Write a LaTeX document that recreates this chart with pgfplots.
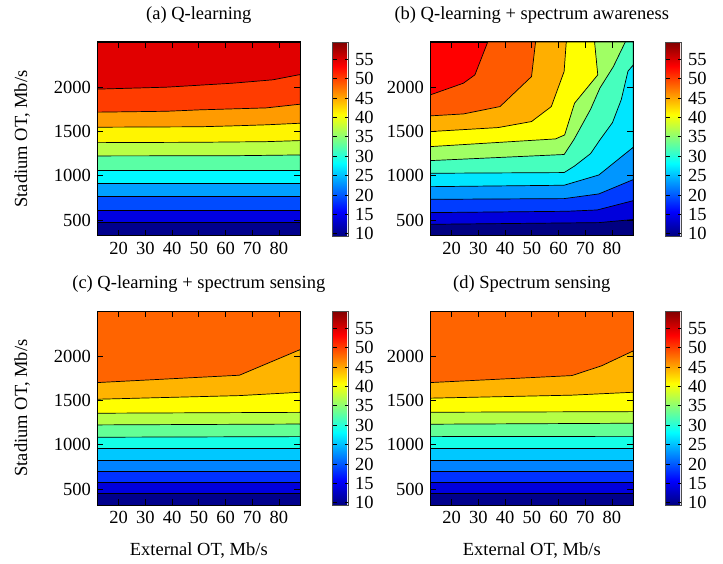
\documentclass[border=0pt]{standalone}
\usepackage{fontspec}
\setmainfont{Liberation Serif}
\usepackage{pgfplots}
\pgfplotsset{compat=1.18}

% band colours, bottom (lowest value) to top
\definecolor{a0}{RGB}{0,0,140}
\definecolor{a1}{RGB}{0,0,225}
\definecolor{a2}{RGB}{0,75,255}
\definecolor{a3}{RGB}{0,160,255}
\definecolor{a4}{RGB}{0,250,255}
\definecolor{a5}{RGB}{90,255,165}
\definecolor{a6}{RGB}{185,255,70}
\definecolor{a7}{RGB}{255,245,0}
\definecolor{a8}{RGB}{255,155,0}
\definecolor{a9}{RGB}{255,60,0}
\definecolor{a10}{RGB}{225,0,0}

\definecolor{b0}{RGB}{0,0,130}
\definecolor{b1}{RGB}{0,0,220}
\definecolor{b2}{RGB}{0,60,255}
\definecolor{b3}{RGB}{0,150,255}
\definecolor{b4}{RGB}{0,230,255}
\definecolor{b5}{RGB}{70,255,190}
\definecolor{b6}{RGB}{160,255,100}
\definecolor{b7}{RGB}{255,255,0}
\definecolor{b8}{RGB}{255,175,0}
\definecolor{b9}{RGB}{255,90,0}
\definecolor{b10}{RGB}{255,0,0}

\definecolor{c0}{RGB}{0,0,140}
\definecolor{c1}{RGB}{0,0,220}
\definecolor{c2}{RGB}{0,50,255}
\definecolor{c3}{RGB}{0,130,255}
\definecolor{c4}{RGB}{0,200,255}
\definecolor{c5}{RGB}{20,255,230}
\definecolor{c6}{RGB}{100,255,150}
\definecolor{c7}{RGB}{180,255,70}
\definecolor{c8}{RGB}{255,255,0}
\definecolor{c9}{RGB}{255,180,0}
\definecolor{c10}{RGB}{255,100,0}

\pgfplotsset{
  panel/.style={
    scale only axis, width=203pt, height=194pt,
    xmin=12, xmax=88, ymin=320, ymax=2510,
    xtick={20,30,...,80}, ytick={500,1000,1500,2000},
    tick align=inside,
    major tick length=6pt,
    tick style={black, line width=0.8pt},
    axis line style={black, line width=1pt},
    /pgf/number format/assume math mode=true,
    /pgf/number format/1000 sep={},
    axis on top,
    % the default title style already shifts up by 6pt
    title style={at={(axis description cs:0.5,1.108)}, anchor=center},
    xlabel style={at={(axis description cs:0.5,-0.237)}, anchor=center},
    ylabel style={at={(axis description cs:-0.37,0.5)}, anchor=center},
    colorbar, colormap/jet,
    point meta min=9.4, point meta max=59.5,
    colorbar style={
      at={(parent axis.north east)}, anchor=north west, xshift=24pt,
      scale only axis, width=16pt, height=194pt,
      ytick={10,15,...,55},
      ytick pos=both, yticklabel pos=right,
      tick align=inside,
      major tick length=4pt,
      tick style={black, line width=0.8pt},
      axis line style={black!70, line width=0.8pt},
      /pgf/number format/assume math mode=true,
    },
  },
  band/.style={draw=black, line width=0.7pt, fill=#1},
}

\begin{document}
\fontsize{18.5}{22}\selectfont
\begin{tikzpicture}
\useasboundingbox (0,0) rectangle (723pt,563pt);

% (a)
\begin{axis}[panel, at={(97.3pt,327pt)}, anchor=south west,
  title={(a) Q-learning}, ylabel={Stadium OT, Mb/s}]
\addplot[band=a10] coordinates {(12,320) (12,2510) (88,2510) (88,320)} -- cycle;
\addplot[band=a9] coordinates {(12,1978) (37.9,2000) (62.7,2045) (77.7,2083) (88,2143) (88,320) (12,320)} -- cycle;
\addplot[band=a8] coordinates {(12,1718) (37.9,1728) (50.3,1744) (75.2,1766) (88,1808) (88,320) (12,320)} -- cycle;
\addplot[band=a7] coordinates {(12,1548) (50.3,1553) (62.7,1563) (75.2,1575) (88,1593) (88,320) (12,320)} -- cycle;
\addplot[band=a6] coordinates {(12,1374) (50.3,1378) (75.2,1385) (88,1397) (88,320) (12,320)} -- cycle;
\addplot[band=a5] coordinates {(12,1224) (62.7,1226) (88,1235) (88,320) (12,320)} -- cycle;
\addplot[band=a4] coordinates {(12,1058) (88,1058) (88,320) (12,320)} -- cycle;
\addplot[band=a3] coordinates {(12,915) (88,915) (88,320) (12,320)} -- cycle;
\addplot[band=a2] coordinates {(12,764) (88,764) (88,320) (12,320)} -- cycle;
\addplot[band=a1] coordinates {(12,614) (88,614) (88,320) (12,320)} -- cycle;
\addplot[band=a0] coordinates {(12,475) (88,475) (88,320) (12,320)} -- cycle;
\end{axis}

% (b)
\begin{axis}[panel, at={(430.3pt,327pt)}, anchor=south west,
  title={(b) Q-learning + spectrum awareness}]
\addplot[band=b10] coordinates {(12,320) (12,2510) (88,2510) (88,320)} -- cycle;
\addplot[band=b9] coordinates {(12,1913) (24.4,2045) (28.7,2139) (33.5,2510) (88,2510) (88,320) (12,320)} -- cycle;
\addplot[band=b8] coordinates {(12,1676) (24.4,1698) (38.1,1781) (49.9,2120) (51.4,2510) (88,2510) (88,320) (12,320)} -- cycle;
\addplot[band=b7] coordinates {(12,1499) (37.4,1544) (49.9,1612) (57.3,1781) (62.1,2177) (62.9,2510) (88,2510) (88,320) (12,320)} -- cycle;
\addplot[band=b6] coordinates {(12,1329) (58.9,1416) (62.3,1461) (66,1819) (74.7,2139) (73.5,2510) (88,2510) (88,320) (12,320)} -- cycle;
\addplot[band=b5] coordinates {(12,1171) (62.1,1240) (65.8,1410) (72,1750) (75.5,1990) (80.5,2230) (85,2510) (88,2510) (88,320) (12,320)} -- cycle;
\addplot[band=b4] coordinates {(12,1028) (62.1,1036) (66,1110) (72,1250) (75.5,1405) (80.2,1600) (83.5,1860) (86,2180) (88,2252) (88,320) (12,320)} -- cycle;
\addplot[band=b3] coordinates {(12,877) (62.1,893) (75.1,1009) (88,1322) (88,320) (12,320)} -- cycle;
\addplot[band=b2] coordinates {(12,734) (62.1,742) (75.1,795) (88,957) (88,320) (12,320)} -- cycle;
\addplot[band=b1] coordinates {(12,584) (63,599) (74.5,614) (88,719) (88,320) (12,320)} -- cycle;
\addplot[band=b0] coordinates {(12,452) (75.1,471) (88,506) (88,320) (12,320)} -- cycle;
\end{axis}

% (c)
\begin{axis}[panel, at={(97.3pt,58pt)}, anchor=south west,
  title={(c) Q-learning + spectrum sensing},
  xlabel={External OT, Mb/s}, ylabel={Stadium OT, Mb/s}]
\addplot[band=c10] coordinates {(12,320) (12,2510) (88,2510) (88,320)} -- cycle;
\addplot[band=c9] coordinates {(12,1702) (65.2,1785) (88,2075) (88,320) (12,320)} -- cycle;
\addplot[band=c8] coordinates {(12,1514) (65.2,1555) (88,1593) (88,320) (12,320)} -- cycle;
\addplot[band=c7] coordinates {(12,1356) (88,1366) (88,320) (12,320)} -- cycle;
\addplot[band=c6] coordinates {(12,1224) (88,1234) (88,320) (12,320)} -- cycle;
\addplot[band=c5] coordinates {(12,1085) (88,1092) (88,320) (12,320)} -- cycle;
\addplot[band=c4] coordinates {(12,960) (88,960) (88,320) (12,320)} -- cycle;
\addplot[band=c3] coordinates {(12,828) (88,828) (88,320) (12,320)} -- cycle;
\addplot[band=c2] coordinates {(12,704) (88,704) (88,320) (12,320)} -- cycle;
\addplot[band=c1] coordinates {(12,576) (88,576) (88,320) (12,320)} -- cycle;
\addplot[band=c0] coordinates {(12,452) (88,452) (88,320) (12,320)} -- cycle;
\end{axis}

% (d)
\begin{axis}[panel, at={(430.3pt,58pt)}, anchor=south west,
  title={(d) Spectrum sensing},
  xlabel={External OT, Mb/s}]
\addplot[band=c10] coordinates {(12,320) (12,2510) (88,2510) (88,320)} -- cycle;
\addplot[band=c9] coordinates {(12,1702) (65,1781) (76.1,1891) (88,2060) (88,320) (12,320)} -- cycle;
\addplot[band=c8] coordinates {(12,1526) (65,1560) (88,1593) (88,320) (12,320)} -- cycle;
\addplot[band=c7] coordinates {(12,1367) (88,1374) (88,320) (12,320)} -- cycle;
\addplot[band=c6] coordinates {(12,1232) (88,1243) (88,320) (12,320)} -- cycle;
\addplot[band=c5] coordinates {(12,1092) (88,1095) (88,320) (12,320)} -- cycle;
\addplot[band=c4] coordinates {(12,961) (88,961) (88,320) (12,320)} -- cycle;
\addplot[band=c3] coordinates {(12,828) (88,828) (88,320) (12,320)} -- cycle;
\addplot[band=c2] coordinates {(12,704) (88,704) (88,320) (12,320)} -- cycle;
\addplot[band=c1] coordinates {(12,576) (88,576) (88,320) (12,320)} -- cycle;
\addplot[band=c0] coordinates {(12,452) (88,452) (88,320) (12,320)} -- cycle;
\end{axis}
\end{tikzpicture}
\end{document}
